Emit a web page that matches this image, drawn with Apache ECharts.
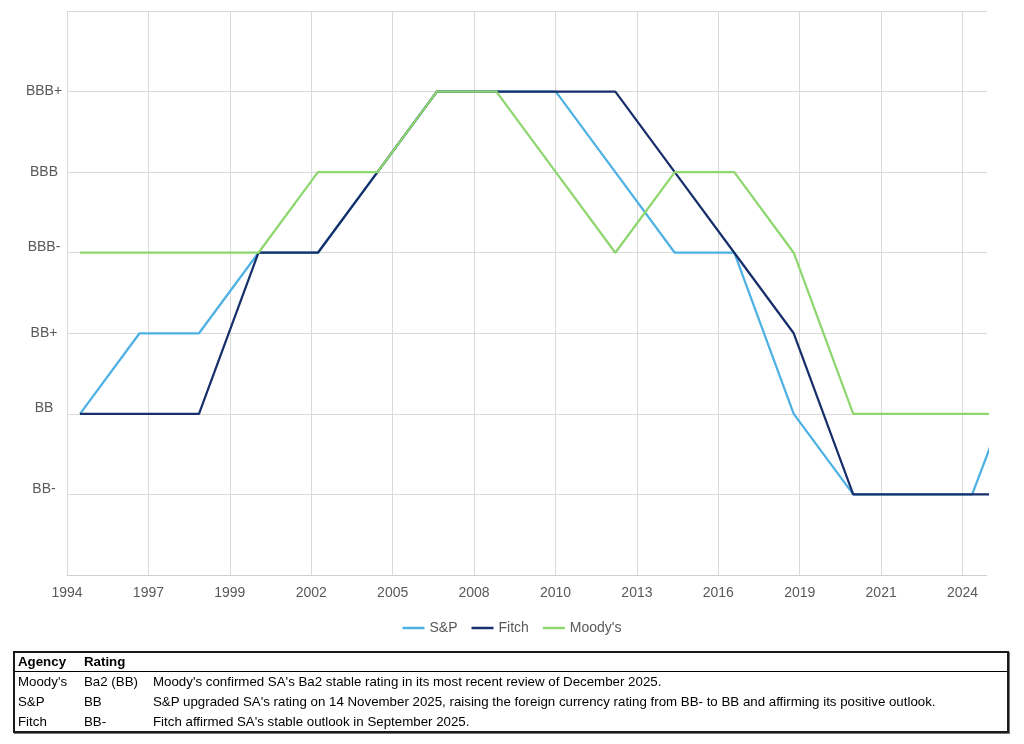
<!DOCTYPE html>
<html>
<head>
<meta charset="utf-8">
<script src="https://cdn.jsdelivr.net/npm/echarts@6/dist/echarts.min.js"></script>
<style>
  html, body { margin: 0; padding: 0; background: #fff; }
  #chart { position: absolute; left: 0; top: 0; width: 1024px; height: 744px; }
  #tbl {
    position: absolute; left: 13px; top: 651px; width: 992px; height: 78px;
    border: 2px solid #1a1a1a; font-family: "Liberation Sans", Arial, sans-serif;
    font-size: 13.3px; color: #000; box-sizing: content-box;
    box-shadow: 1px 1px 0 #777;
  }
  #tbl .row { position: relative; height: 20px; line-height: 20px; white-space: nowrap; }
  #tbl .hdr { height: 18px; line-height: 18px; border-bottom: 1px solid #000; font-weight: bold; }
  #tbl span { position: absolute; top: 0; }
  #tbl .c1 { left: 3px; } #tbl .c2 { left: 69px; } #tbl .c3 { left: 138px; }
</style>
</head>
<body>
<div id="chart"></div>
<div id="tbl"></div>
<script>
// ---- Data ----
const AXIS_START = '1994-06-13';          // left edge of the date axis
const AXIS_END_DAYS = 11300;              // right edge of axis (days after start)
const xTickLabels = ['1994','1997','1999','2002','2005','2008','2010','2013','2016','2019','2021','2024'];
const ratingLabels = ['', 'BB-', 'BB', 'BB+', 'BBB-', 'BBB', 'BBB+', ''];
const dates = ['1994-11-20','1996-11-20','1998-11-20','2000-11-20','2002-11-20','2004-11-20',
               '2006-11-20','2008-11-20','2010-11-20','2012-11-20','2014-11-20','2016-11-20',
               '2018-11-20','2020-11-20','2022-11-20','2024-11-20','2025-11-30'];
const spValues     = [2,3,3,4,4,5,6,6,6,5,4,4,2,1,1,1,2];
const fitchValues  = [2,2,2,4,4,5,6,6,6,6,5,4,3,1,1,1,1];
const moodysValues = [4,4,4,4,5,5,6,6,5,4,5,5,4,2,2,2,2];
const seriesNames = ['S&P', 'Fitch', "Moody's"];
const tableRows = [
  ['Agency', 'Rating', ''],
  ["Moody's", 'Ba2 (BB)', "Moody's confirmed SA's Ba2 stable rating in its most recent review of December 2025."],
  ['S&P', 'BB', "S&P upgraded SA's rating on 14 November 2025, raising the foreign currency rating from BB- to BB and affirming its positive outlook."],
  ['Fitch', 'BB-', "Fitch affirmed SA's stable outlook in September 2025."]
];

// ---- Build ----
const startMs = Date.parse(AXIS_START);
function toDays(d) { return (Date.parse(d) - startMs) / 86400000; }
function pairs(vals) { return vals.map((v, i) => [toDays(dates[i]), v]); }

const colors = ['#4DB1E4', '#172F6A', '#8ED66E'];
const font = '"Liberation Sans", Arial, sans-serif';
const gridColors = xTickLabels.map(() => '#D9D9D9').concat(['rgba(0,0,0,0)']);

const chart = echarts.init(document.getElementById('chart'), null, { renderer: 'canvas' });
chart.setOption({
  animation: false,
  backgroundColor: '#fff',
  color: colors,
  grid: { left: 67, right: 37, top: 11, bottom: 169, containLabel: false },
  legend: {
    data: seriesNames, left: 'center', top: 616, itemGap: 14,
    icon: 'rect', itemWidth: 22, itemHeight: 2.5,
    textStyle: { fontFamily: font, fontSize: 14, color: '#595959' }
  },
  xAxis: {
    type: 'value', min: 0, max: AXIS_END_DAYS, interval: 1000,
    axisLine: { show: true, lineStyle: { color: '#D0D0D0', width: 1 } },
    axisTick: { show: false },
    splitLine: { show: true, lineStyle: { color: gridColors, width: 1 } },
    axisLabel: {
      margin: 11, fontFamily: font, fontSize: 14, color: '#595959',
      showMaxLabel: false,
      formatter: v => (v % 1000 === 0 ? (xTickLabels[v / 1000] || '') : '')
    }
  },
  yAxis: {
    type: 'value', min: 0, max: 7, interval: 1,
    axisLine: { show: false }, axisTick: { show: false },
    splitLine: { show: true, lineStyle: { color: '#D9D9D9', width: 1 } },
    axisLabel: {
      margin: 23, align: 'center', fontFamily: font, fontSize: 14, color: '#595959',
      formatter: v => {
        const t = ratingLabels[v] || '';
        return (v === 1 || v === 2 || v === 4) && t ? '{up|' + t + '}' : t;
      },
      rich: { up: { padding: [0, 0, 11, 0], fontFamily: font, fontSize: 14, color: '#595959' } }
    }
  },
  series: [
    { name: seriesNames[0], type: 'line', data: pairs(spValues), showSymbol: false, symbol: 'none', lineStyle: { width: 2.25 }, clip: true },
    { name: seriesNames[1], type: 'line', data: pairs(fitchValues), showSymbol: false, symbol: 'none', lineStyle: { width: 2.25 }, clip: true },
    { name: seriesNames[2], type: 'line', data: pairs(moodysValues), showSymbol: false, symbol: 'none', lineStyle: { width: 2.25 }, clip: true }
  ]
});

// ---- Table ----
const tbl = document.getElementById('tbl');
tableRows.forEach((r, i) => {
  const row = document.createElement('div');
  row.className = 'row' + (i === 0 ? ' hdr' : '');
  r.forEach((c, j) => {
    const s = document.createElement('span');
    s.className = 'c' + (j + 1);
    s.textContent = c;
    row.appendChild(s);
  });
  tbl.appendChild(row);
});
</script>
</body>
</html>
